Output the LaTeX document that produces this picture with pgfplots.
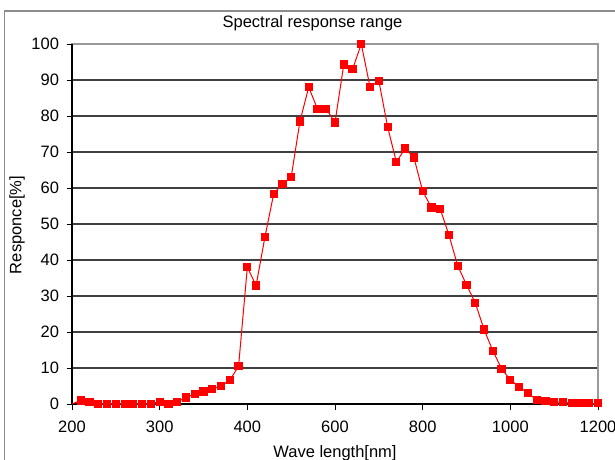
\documentclass[border=0pt]{standalone}
\usepackage{pgfplots}
\pgfplotsset{compat=1.18}
\usepackage{pgfplotstable}
\usepackage{fontspec}
\setmainfont{Liberation Sans}
\pgfplotstableread{
idx nm resp
0 200 0
1 210 1.0
2 220 0.5
3 230 0.1
4 240 0.1
5 250 0.1
6 260 0.1
7 270 0.1
8 280 0.1
9 290 0.1
10 300 0.6
11 310 0.1
12 320 0.6
13 330 1.8
14 340 2.8
15 350 3.5
16 360 4.2
17 370 5.0
18 380 6.6
19 390 10.5
20 400 38.0
21 420 32.9
22 440 46.3
23 460 58.3
24 480 61.2
25 500 63.0
26 520 78.5
27 540 88.0
28 560 82.0
29 580 82.0
30 600 78.2
31 620 94.3
32 640 93.0
33 660 100.0
34 680 88.0
35 700 89.8
36 720 77.0
37 740 67.2
38 760 71.0
39 780 68.5
40 800 59.1
41 820 54.6
42 840 54.2
43 860 46.9
44 880 38.4
45 900 33.1
46 920 28.1
47 940 20.7
48 960 14.8
49 980 9.8
50 1000 6.7
51 1020 4.8
52 1040 3.0
53 1060 1.2
54 1080 0.9
55 1100 0.5
56 1120 0.5
57 1140 0.2
58 1160 0.2
59 1180 0.2
60 1200 0.2
}\datatable
\begin{document}
\begin{tikzpicture}
\path[use as bounding box] (0,0) rectangle (615pt,459pt);
\clip (0,0) rectangle (615pt,459pt);
\draw[black!45, line width=1.5pt] (4.5pt,-10pt) -- (4.5pt,448pt) -- (630pt,448pt);
\begin{axis}[
 at={(72pt,55pt)}, anchor=south west,
 scale only axis, width=526pt, height=360pt,
 xmin=0, xmax=60, ymin=0, ymax=100,
 xtick={0,10,...,60}, xticklabels={200,300,400,600,800,1000,1200},
 ytick={0,10,...,100},
 ymajorgrids, grid style={black!75, line width=1.2pt},
 axis line style={draw=black!40, line width=1.2pt},
 tick align=outside, xtick pos=left, ytick pos=left,
 major tick length=5.5pt,
 tick style={black, line width=1pt},
 ticklabel style={font=\fontsize{16.5}{19}\selectfont},
 xticklabel style={yshift=-8pt},
 yticklabel style={xshift=-4pt},
 /pgf/number format/assume math mode=true,
 clip=false,
]
\draw[black, line width=1.5pt] (rel axis cs:0,1) -- (rel axis cs:0,0) -- (rel axis cs:1,0);
\addplot[red, line width=1pt, mark=square*, mark size=3.6pt, mark options={solid, fill=red, draw=red}, mark indices={2,...,61}] table[x=idx,y=resp] {\datatable};
\end{axis}
\node[font=\fontsize{16.5}{19}\selectfont] at (312.5pt,436pt) {Spectral response range};
\node[font=\fontsize{16.5}{19}\selectfont, rotate=90] at (17pt,234pt) {Responce[\%]};
\node[font=\fontsize{16.5}{19}\selectfont, anchor=base] at (335pt,2pt) {Wave length[nm]};
\end{tikzpicture}
\end{document}
